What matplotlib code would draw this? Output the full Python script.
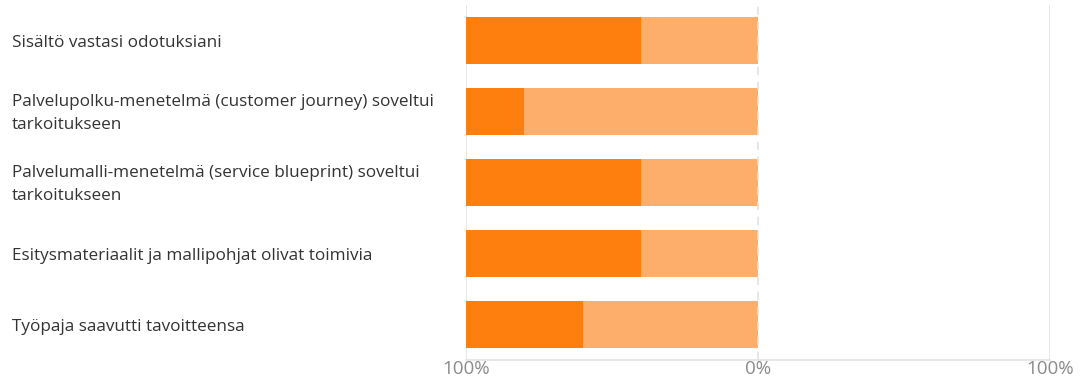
import matplotlib.pyplot as plt
from matplotlib.transforms import blended_transform_factory

#### data
questions = [
    "Sisältö vastasi odotuksiani",
    "Palvelupolku-menetelmä (customer journey) soveltui\ntarkoitukseen",
    "Palvelumalli-menetelmä (service blueprint) soveltui\ntarkoitukseen",
    "Esitysmateriaalit ja mallipohjat olivat toimivia",
    "Työpaja saavutti tavoitteensa",
]
strong = [60, 20, 60, 60, 40]   # darker orange, outer part
mild = [40, 80, 40, 40, 60]     # lighter orange, next to 0%
tick_vals = [-100, 0, 100]
tick_labels = ["100%", "0%", "100%"]

plt.rcParams['font.family'] = ['Open Sans', 'DejaVu Sans']

fig = plt.figure(figsize=(10.84, 3.8), dpi=100)
ax = fig.add_axes([466/1084, 1-360/380, 584/1084, 355/380])

y = list(range(len(questions)))
neg_mild = [-m for m in mild]
ax.barh(y, neg_mild, height=0.66, color='#FDAE6B', zorder=2)
ax.barh(y, [-s for s in strong], left=neg_mild, height=0.66, color='#FF7F0E', zorder=2)

ax.set_xlim(-100, 100)
ax.set_ylim(len(questions)-0.5, -0.5)

#### grid
ax.axvline(-100, color='#e3e3e3', lw=1.2, zorder=1)
ax.axvline(100, color='#e3e3e3', lw=1.2, zorder=1)
ax.axvline(0, color='#e3e3e3', lw=1.2, ls=(0, (5, 4)), zorder=3)

for s in ['top', 'right', 'left']:
    ax.spines[s].set_visible(False)
ax.spines['bottom'].set_color('#e3e3e3')
ax.spines['bottom'].set_linewidth(1.2)

ax.set_xticks(tick_vals)
ax.set_xticklabels(tick_labels, fontsize=13.5, color='#8a8a8a')
ax.tick_params(axis='x', length=0, pad=0)
ax.set_yticks([])

#### question labels, left aligned at figure edge
trans = blended_transform_factory(fig.transFigure, ax.transData)
for i, q in enumerate(questions):
    ax.text(12/1084, i + 0.03, q, transform=trans, ha='left', va='center',
            fontsize=12.3, color='#333333', linespacing=1.55)

fig.savefig('out.png', dpi=100)
